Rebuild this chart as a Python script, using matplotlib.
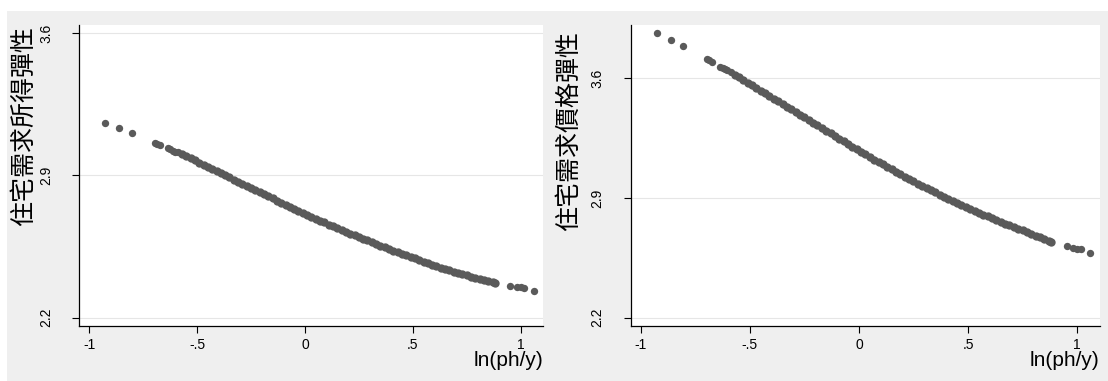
import matplotlib
matplotlib.use("Agg")
import matplotlib.pyplot as plt
from matplotlib.patches import Rectangle

# ln(ph/y) along the dense part of the cloud (shared by both panels)
band_x = [-0.57, -0.55, -0.53, -0.51, -0.49, -0.47, -0.45, -0.43, -0.41, -0.39,
          -0.37, -0.35, -0.33, -0.31, -0.29, -0.27, -0.25, -0.23, -0.21, -0.19,
          -0.17, -0.15, -0.13, -0.11, -0.09, -0.07, -0.05, -0.03, -0.01, 0.01,
          0.03, 0.05, 0.07, 0.09, 0.11, 0.13, 0.15, 0.17, 0.19, 0.21,
          0.23, 0.25, 0.27, 0.29, 0.31, 0.33, 0.35, 0.37, 0.39, 0.41,
          0.43, 0.45, 0.47, 0.49, 0.51, 0.53, 0.55, 0.57, 0.59, 0.61,
          0.63, 0.65, 0.67, 0.69, 0.71, 0.73, 0.75, 0.77, 0.79, 0.81,
          0.83, 0.85, 0.87, 0.88]

# income elasticity (left panel)
income_band = [3.004, 2.994, 2.983, 2.973, 2.962, 2.952, 2.942, 2.931, 2.921, 2.910,
               2.900, 2.890, 2.879, 2.869, 2.858, 2.848, 2.837, 2.827, 2.817, 2.806,
               2.796, 2.786, 2.776, 2.766, 2.756, 2.746, 2.736, 2.726, 2.716, 2.706,
               2.696, 2.686, 2.677, 2.668, 2.658, 2.649, 2.640, 2.631, 2.622, 2.613,
               2.605, 2.596, 2.588, 2.580, 2.571, 2.563, 2.554, 2.546, 2.538, 2.529,
               2.522, 2.514, 2.506, 2.499, 2.491, 2.483, 2.476, 2.468, 2.460, 2.453,
               2.446, 2.439, 2.432, 2.425, 2.419, 2.413, 2.408, 2.402, 2.397, 2.391,
               2.385, 2.380, 2.374, 2.372]

# price elasticity (right panel)
price_band = [3.622, 3.606, 3.590, 3.575, 3.559, 3.544, 3.528, 3.512, 3.497, 3.481,
              3.466, 3.450, 3.434, 3.419, 3.403, 3.388, 3.372, 3.356, 3.341, 3.325,
              3.310, 3.294, 3.278, 3.263, 3.247, 3.232, 3.216, 3.200, 3.185, 3.170,
              3.155, 3.140, 3.125, 3.110, 3.096, 3.081, 3.067, 3.052, 3.038, 3.024,
              3.011, 2.997, 2.983, 2.970, 2.957, 2.945, 2.932, 2.920, 2.907, 2.894,
              2.883, 2.871, 2.860, 2.848, 2.836, 2.825, 2.814, 2.803, 2.792, 2.782,
              2.771, 2.760, 2.750, 2.740, 2.730, 2.720, 2.710, 2.700, 2.690, 2.680,
              2.670, 2.660, 2.650, 2.645]

# the sparse points at both ends
tail_x = [-0.925, -0.862, -0.804, -0.696, -0.685, -0.673, -0.637, -0.625, -0.613, -0.604,
          -0.588, 0.952, 0.983, 1.0, 1.016, 1.061]
income_tail = [3.157, 3.133, 3.108, 3.058, 3.053, 3.047, 3.033, 3.027, 3.021, 3.016,
               3.013, 2.356, 2.352, 2.349, 2.345, 2.331]
price_tail = [3.865, 3.826, 3.789, 3.712, 3.705, 3.697, 3.668, 3.661, 3.654, 3.648,
              3.636, 2.619, 2.609, 2.604, 2.599, 2.580]

xticks = [-1, -0.5, 0, 0.5, 1]
xtick_labels = ["-1", "-.5", "0", ".5", "1"]
yticks = [2.2, 2.9, 3.6]
ytick_labels = ["2.2", "2.9", "3.6"]

plt.rcParams["font.family"] = ["Liberation Sans", "DejaVu Sans"]
cjk = ["Noto Sans CJK TC", "DejaVu Sans"]
dot = "#5a5a5a"
bg = "#efefef"

fig = plt.figure(figsize=(11.08, 3.81), dpi=100, facecolor="white")
# grey graph region (white strip on top and left)
fig.patches.append(Rectangle((7 / 1108, 0), 1, 1 - 11 / 381, transform=fig.transFigure,
                             facecolor=bg, edgecolor="none", zorder=-10))

panels = [
    ([0.0716, 0.1444, 0.4185, 0.790], income_band, income_tail, "住宅需求所得彈性",
     (2.159, 3.639), (-0.091, 0.995)),
    ([0.5692, 0.1444, 0.4234, 0.790], price_band, price_tail, "住宅需求價格彈性",
     (2.151, 3.912), (-0.104, 0.980)),
]

for rect, band, tail, label, ylim, lab_pos in panels:
    ax = fig.add_axes(rect)
    ax.set_facecolor("white")
    ax.scatter(band_x, band, s=36, color=dot, linewidths=0, zorder=3)
    ax.scatter(tail_x, tail, s=28, color=dot, linewidths=0, zorder=3)

    ax.set_xlim(-1.046, 1.104)
    ax.set_ylim(*ylim)
    ax.set_xticks(xticks)
    ax.set_xticklabels(xtick_labels)
    ax.set_yticks(yticks)
    ax.set_yticklabels(ytick_labels, rotation=90, va="center")
    ax.tick_params(axis="x", length=5, width=0.8, pad=4, labelsize=10)
    ax.tick_params(axis="y", length=5, width=0.8, pad=14, labelsize=10)

    ax.grid(axis="y", color="#e6e6e6", linewidth=0.8)
    ax.set_axisbelow(True)
    for side in ["top", "right"]:
        ax.spines[side].set_visible(False)
    for side in ["left", "bottom"]:
        ax.spines[side].set_linewidth(0.9)
        ax.spines[side].set_color("black")

    ax.set_xlabel("ln(ph/y)", fontsize=15, loc="right")
    ax.xaxis.set_label_coords(1.0, -0.083)
    ax.set_ylabel(label, fontsize=18, family=cjk, fontweight="light", loc="top")
    ax.yaxis.set_label_coords(*lab_pos)

fig.savefig("out.png", dpi=100, facecolor=fig.get_facecolor())
